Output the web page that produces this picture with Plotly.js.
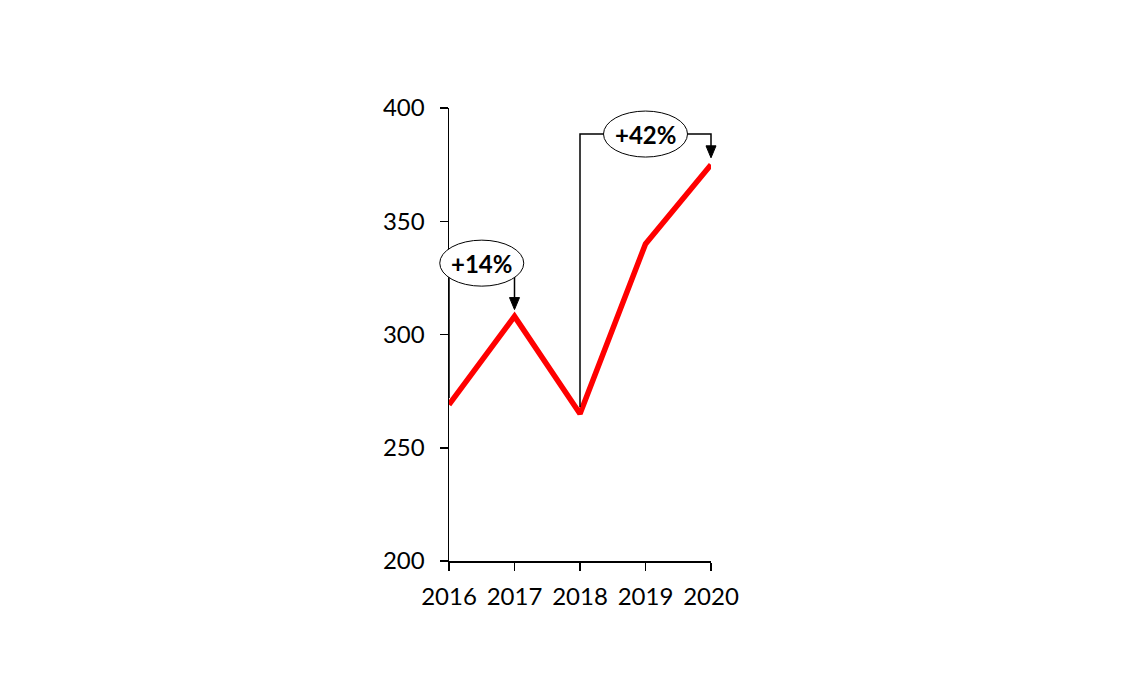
<!DOCTYPE html>
<html>
<head>
<meta charset="utf-8">
<script src="https://cdn.plot.ly/plotly-3.0.1.min.js"></script>
<style>html,body{margin:0;padding:0;background:#fff;}#chart{width:1146px;height:694px;}</style>
</head>
<body>
<div id="chart"></div>
<script>
const years = [2016, 2017, 2018, 2019, 2020];
const values = [269, 308, 265, 340, 375];
const yTicks = [200, 250, 300, 350, 400];
const changeLabels = ['+14%', '+42%'];
const changeFrom = [0, 2];   // index of start year
const changeTo = [1, 4];     // index of end year
const bracketLevels = [331.5, 388.5];

const X0 = 2016, X1 = 2020, Y0 = 200, Y1 = 400;
const px = x => (x - X0) / (X1 - X0);
const py = y => (y - Y0) / (Y1 - Y0);
const OFF = 3;

const shapes = [];
const annotations = [];
for (let i = 0; i < changeLabels.length; i++) {
  const a = changeFrom[i], b = changeTo[i];
  const xa = years[a], xb = years[b];
  const lvl = bracketLevels[i];
  const tip = values[b] + OFF;
  const line = {color: '#000', width: 1.5};
  shapes.push({type: 'path', xref: 'paper', yref: 'paper',
    path: `M${px(xa)},${py(values[a] + OFF)} L${px(xa)},${py(lvl)} L${px(xb)},${py(lvl)} L${px(xb)},${py(tip) + 0.02}`,
    line: line});
  // arrowhead
  shapes.push({type: 'path', xref: 'paper', yref: 'paper',
    xsizemode: 'pixel', ysizemode: 'pixel', xanchor: px(xb), yanchor: py(tip),
    path: 'M-5,12 L5,12 L0,0 Z', fillcolor: '#000', line: {color: '#000', width: 1}});
  // ellipse label
  const xm = (xa + xb) / 2;
  shapes.push({type: 'circle', xref: 'paper', yref: 'paper',
    xsizemode: 'pixel', ysizemode: 'pixel', xanchor: px(xm), yanchor: py(lvl),
    x0: -42, x1: 42, y0: -23, y1: 23,
    fillcolor: '#fff', line: {color: '#000', width: 1}});
  annotations.push({xref: 'paper', yref: 'paper', x: px(xm), y: py(lvl),
    text: '<b>' + changeLabels[i] + '</b>', showarrow: false,
    font: {family: 'Lato, Carlito, sans-serif', size: 24, color: '#000'},
    xanchor: 'center', yanchor: 'middle'});
}

const trace = {x: years, y: values, type: 'scatter', mode: 'lines',
  line: {color: '#ff0000', width: 5.5}, hoverinfo: 'skip'};

const layout = {
  width: 1146, height: 694,
  margin: {l: 449, r: 435, t: 108, b: 133},
  paper_bgcolor: '#fff', plot_bgcolor: '#fff',
  showlegend: false,
  font: {family: 'Lato, Carlito, sans-serif', size: 24, color: '#000'},
  xaxis: {range: [X0, X1], tickvals: years, ticktext: years.map(String),
    showgrid: false, zeroline: false, showline: true, linecolor: '#000', linewidth: 1.5,
    ticks: 'outside', ticklen: 8, tickwidth: 1.5, tickcolor: '#000', ticklabelstandoff: 6},
  yaxis: {range: [Y0, Y1], tickvals: yTicks,
    showgrid: false, zeroline: false, showline: true, linecolor: '#000', linewidth: 1.5,
    ticks: 'outside', ticklen: 8, tickwidth: 1.5, tickcolor: '#000', ticklabelstandoff: 10},
  shapes: shapes,
  annotations: annotations
};
Plotly.newPlot('chart', [trace], layout, {displayModeBar: false, staticPlot: true});
</script>
</body>
</html>
